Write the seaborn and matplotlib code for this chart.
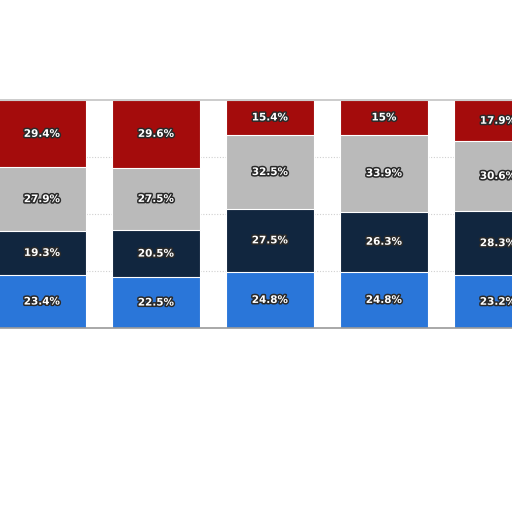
import numpy as np
import pandas as pd
import matplotlib
matplotlib.use("Agg")
import matplotlib.pyplot as plt
import matplotlib.patheffects as pe
import seaborn as sns

# bar groups (labels are outside the visible crop)
groups = ["G1", "G2", "G3", "G4", "G5"]

# segment values, bottom to top (%)
blue_vals = [23.4, 22.5, 24.8, 24.8, 23.2]
navy_vals = [19.3, 20.5, 27.5, 26.3, 28.3]
gray_vals = [27.9, 27.5, 32.5, 33.9, 30.6]
red_vals = [29.4, 29.6, 15.4, 15.0, 17.9]

series = [blue_vals, navy_vals, gray_vals, red_vals]
colors = ["#2a76d9", "#11263f", "#bababa", "#a40c0c"]


def main():
    sns.set_style("white")
    fig = plt.figure(figsize=(5.12, 5.12), dpi=100)
    ax = fig.add_axes([0, 0.359, 1, 0.445])

    cum = np.cumsum(np.array(series), axis=0)
    df = pd.DataFrame({"group": groups})

    # stacked: draw the tallest layer first, lower layers on top of it
    for i in range(len(series) - 1, -1, -1):
        df["h"] = cum[i]
        sns.barplot(data=df, x="group", y="h", order=groups, color=colors[i],
                    saturation=1, width=0.772, edgecolor="white", linewidth=0.8,
                    ax=ax, zorder=2)

    # labels in the middle of each segment
    for i, vals in enumerate(series):
        for j, v in enumerate(vals):
            mid = cum[i][j] - v / 2
            ax.text(j, mid, f"{v:g}%", ha="center", va="center", color="white",
                    fontsize=7.5, fontweight="bold", zorder=5,
                    path_effects=[pe.withStroke(linewidth=2.2, foreground="#2a2a2a")])

    ax.set_xlim(-0.368, 4.123)
    ax.set_ylim(0, 100)
    ax.set_yticks([25, 50, 75])
    ax.yaxis.grid(True, linestyle=(0, (1, 1.5)), color="#d0d0d0", linewidth=0.8, zorder=0)
    ax.set_axisbelow(True)
    ax.set_xticks([])
    ax.set_yticklabels([])
    ax.tick_params(left=False)
    ax.set_xlabel("")
    ax.set_ylabel("")
    for s in ["left", "right"]:
        ax.spines[s].set_visible(False)
    ax.spines["top"].set_color("#c4c4c4")
    ax.spines["bottom"].set_color("#9a9a9a")
    ax.spines["top"].set_linewidth(1.2)
    ax.spines["bottom"].set_linewidth(1.2)

    fig.savefig("out.png", dpi=100, facecolor="white")


if __name__ == "__main__":
    main()
